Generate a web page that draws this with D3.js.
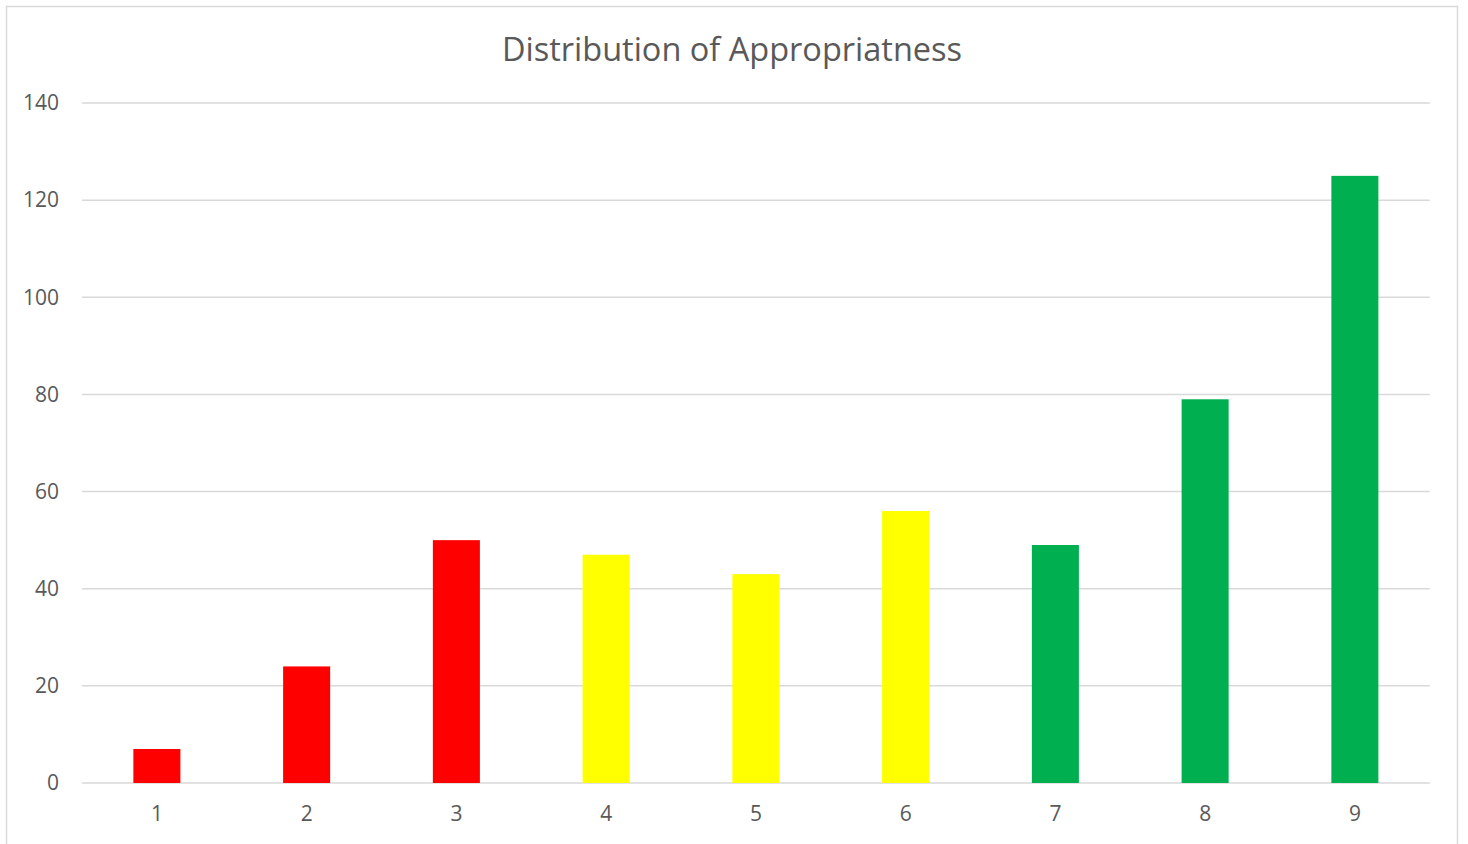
<!DOCTYPE html>
<html><head><meta charset="utf-8">
<script src="https://cdn.jsdelivr.net/npm/d3@7"></script>
<style>body{margin:0;background:#fff;} svg{display:block;}</style>
</head><body>
<svg id="c" width="1468" height="844"></svg>
<script>
const categories = ["1","2","3","4","5","6","7","8","9"];
const values = [7,24,50,47,43,56,49,79,125];
const barColors = ["#FF0000","#FF0000","#FF0000","#FFFF00","#FFFF00","#FFFF00","#00B050","#00B050","#00B050"];
const yTicks = [0,20,40,60,80,100,120,140];
const title = "Distribution of Appropriatness";

const svg = d3.select("#c");
const font = "'Open Sans', 'Liberation Sans', sans-serif";
const txt = "#595959";

svg.append("rect").attr("x",6.5).attr("y",6.5).attr("width",1451).attr("height",850)
  .attr("fill","#fff").attr("stroke","#d9d9d9").attr("stroke-width",1.5);

const x = d3.scaleBand().domain(categories).range([82,1429.75]).paddingInner(0.686).paddingOuter(0.343);
const y = d3.scaleLinear().domain([0,140]).range([783,103]);

const grid = svg.append("g");
grid.selectAll("line").data(yTicks).join("line")
  .attr("x1",82).attr("x2",1429.75)
  .attr("y1",d=>y(d)).attr("y2",d=>y(d))
  .attr("stroke","#d9d9d9").attr("stroke-width",1.5);

svg.append("g").selectAll("rect").data(values).join("rect")
  .attr("x",(d,i)=>x(categories[i])).attr("width",x.bandwidth())
  .attr("y",d=>y(d)).attr("height",d=>y(0)-y(d))
  .attr("fill",(d,i)=>barColors[i]);

const yAxis = d3.axisLeft(y).tickValues(yTicks).tickSize(0).tickPadding(23);
const gy = svg.append("g").attr("transform","translate(82,0)").call(yAxis);
gy.select(".domain").remove();
gy.selectAll("text").attr("fill",txt).style("font-family",font).style("font-size","21px");

const xAxis = d3.axisBottom(x).tickSize(0).tickPadding(23);
const gx = svg.append("g").attr("transform","translate(0,783)").call(xAxis);
gx.select(".domain").remove();
gx.selectAll("text").attr("fill",txt).style("font-family",font).style("font-size","21px");

svg.append("text").attr("x",732).attr("y",61).attr("text-anchor","middle")
  .attr("fill",txt).style("font-family",font).style("font-size","32.5px").text(title);
</script>
</body></html>
